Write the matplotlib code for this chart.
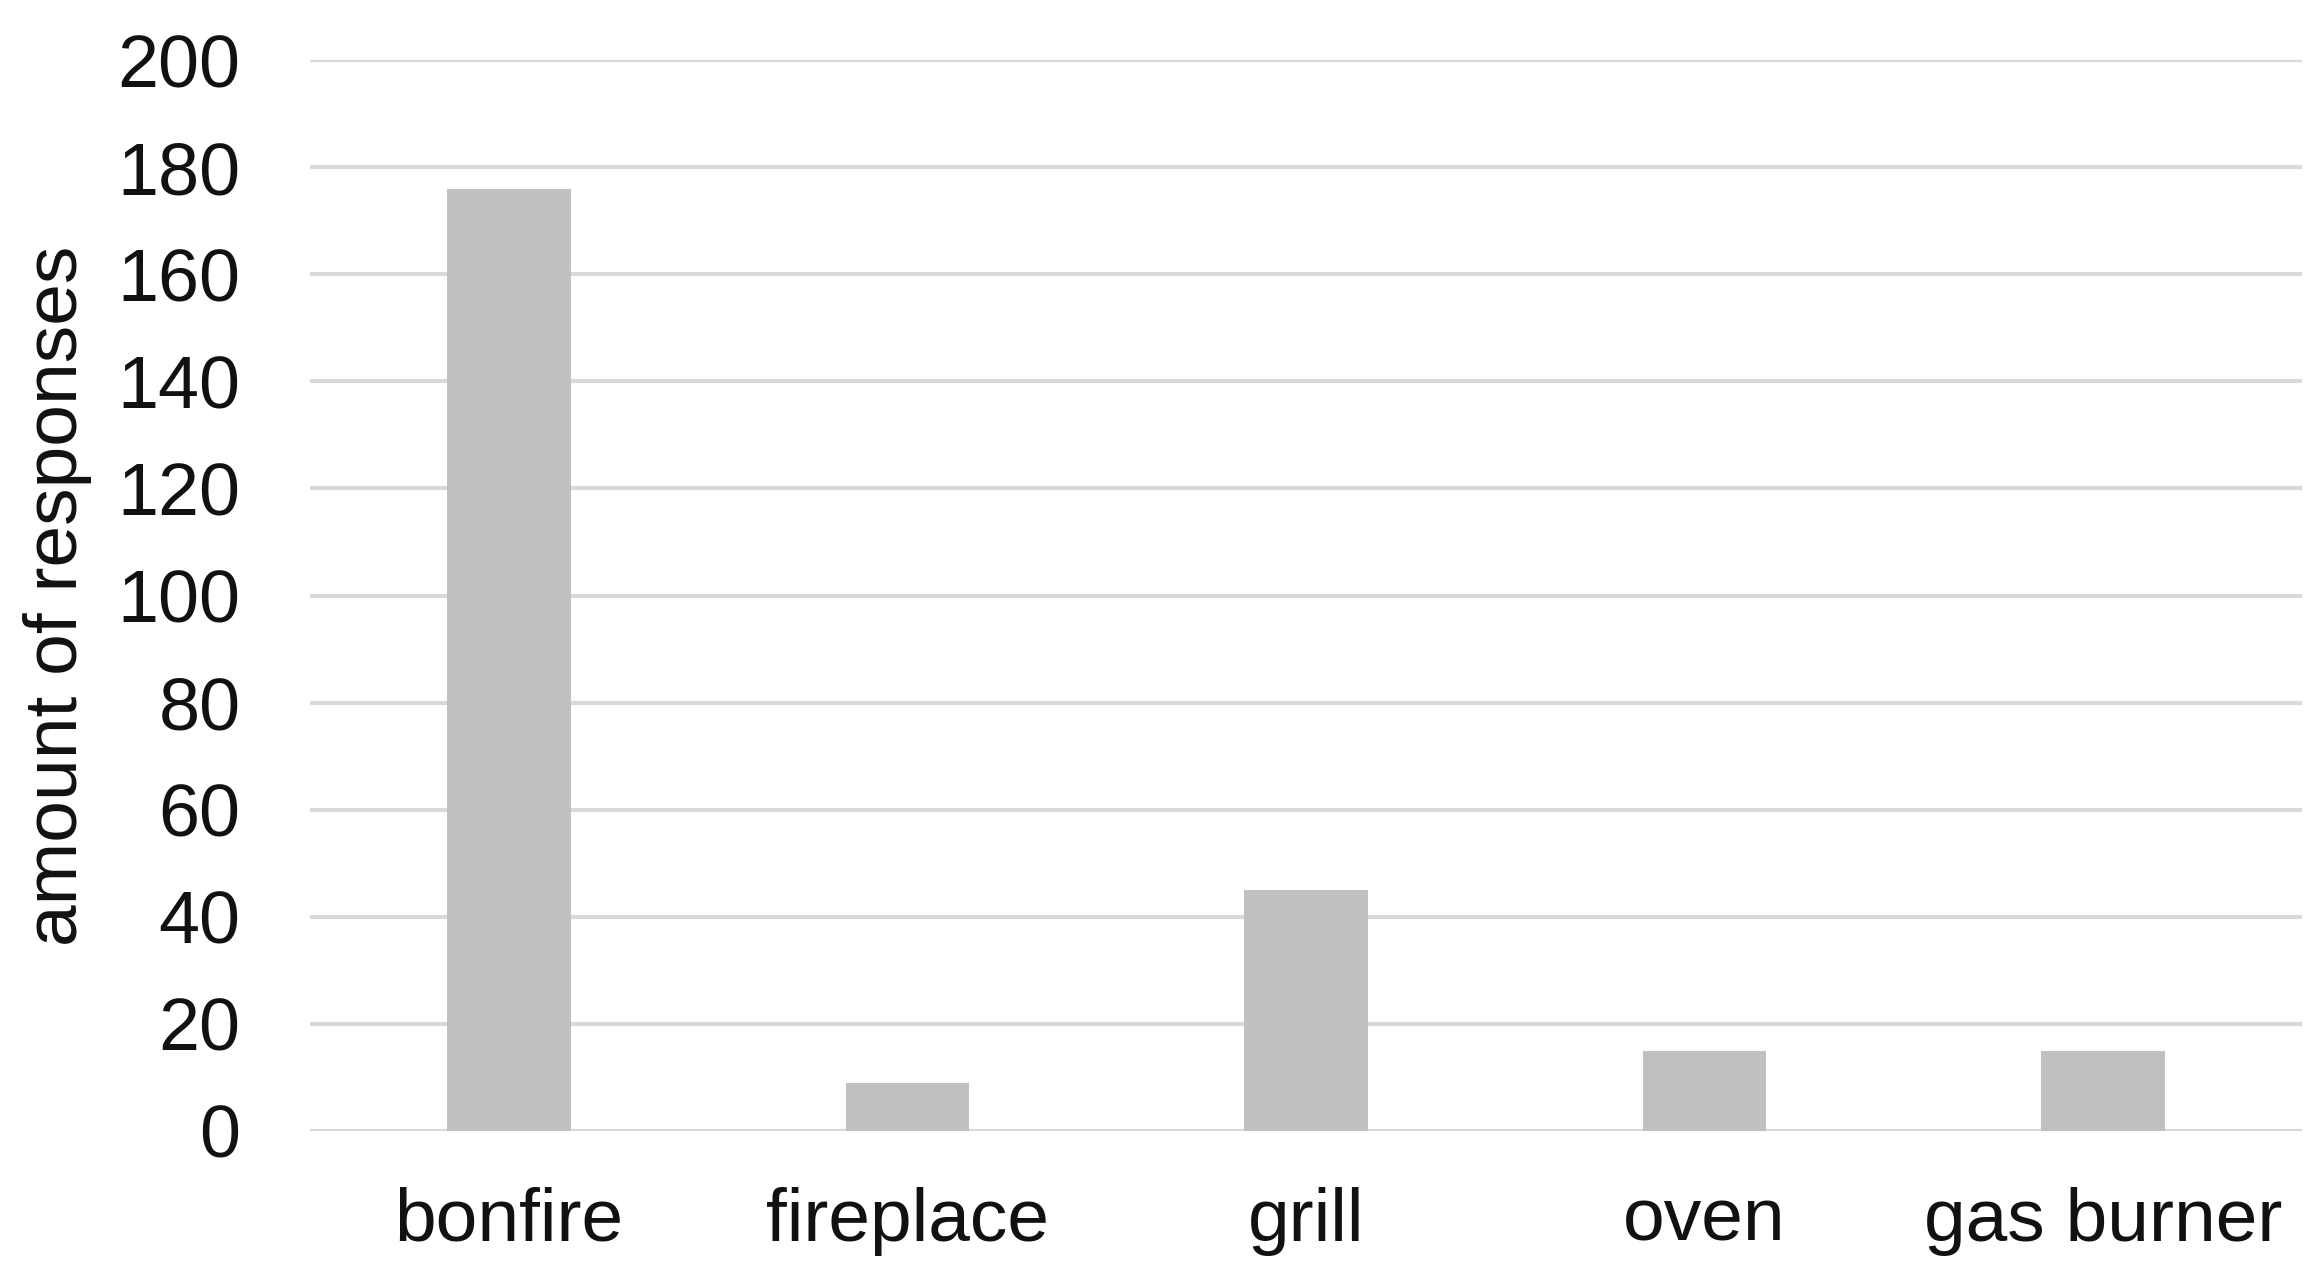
import numpy as np
import matplotlib.pyplot as plt

categories = ['bonfire', 'fireplace', 'grill', 'oven', 'gas burner']
responses = [176, 9, 45, 15, 15]
yticks = [0, 20, 40, 60, 80, 100, 120, 140, 160, 180, 200]

plt.rcParams['font.family'] = ['Liberation Sans', 'DejaVu Sans']

fig = plt.figure(figsize=(23.22, 12.86), dpi=100)
ax = fig.add_axes([310 / 2322, 1 - 1131 / 1286, (2302 - 310) / 2322, (1131 - 60) / 1286])

x = np.arange(len(categories))
ax.bar(x, responses, width=0.31, color='#bfc1bf', zorder=3)

ax.set_xlim(-0.5, len(categories) - 0.5)
ax.set_ylim(0, 200)
ax.set_yticks(yticks)
ax.set_xticks(x)
ax.set_xticklabels(categories)
ax.yaxis.grid(True, color='#d9d9d9', linewidth=3, zorder=0)
ax.set_axisbelow(True)
for s in ax.spines.values():
    s.set_visible(False)
ax.tick_params(axis='y', length=0, pad=50, labelsize=53, labelcolor='#111111')
ax.tick_params(axis='x', length=0, pad=40, labelsize=54, labelcolor='#111111')
ax.set_ylabel('amount of responses', fontsize=54, color='#111111', labelpad=18)

fig.savefig('out.png', dpi=100)
